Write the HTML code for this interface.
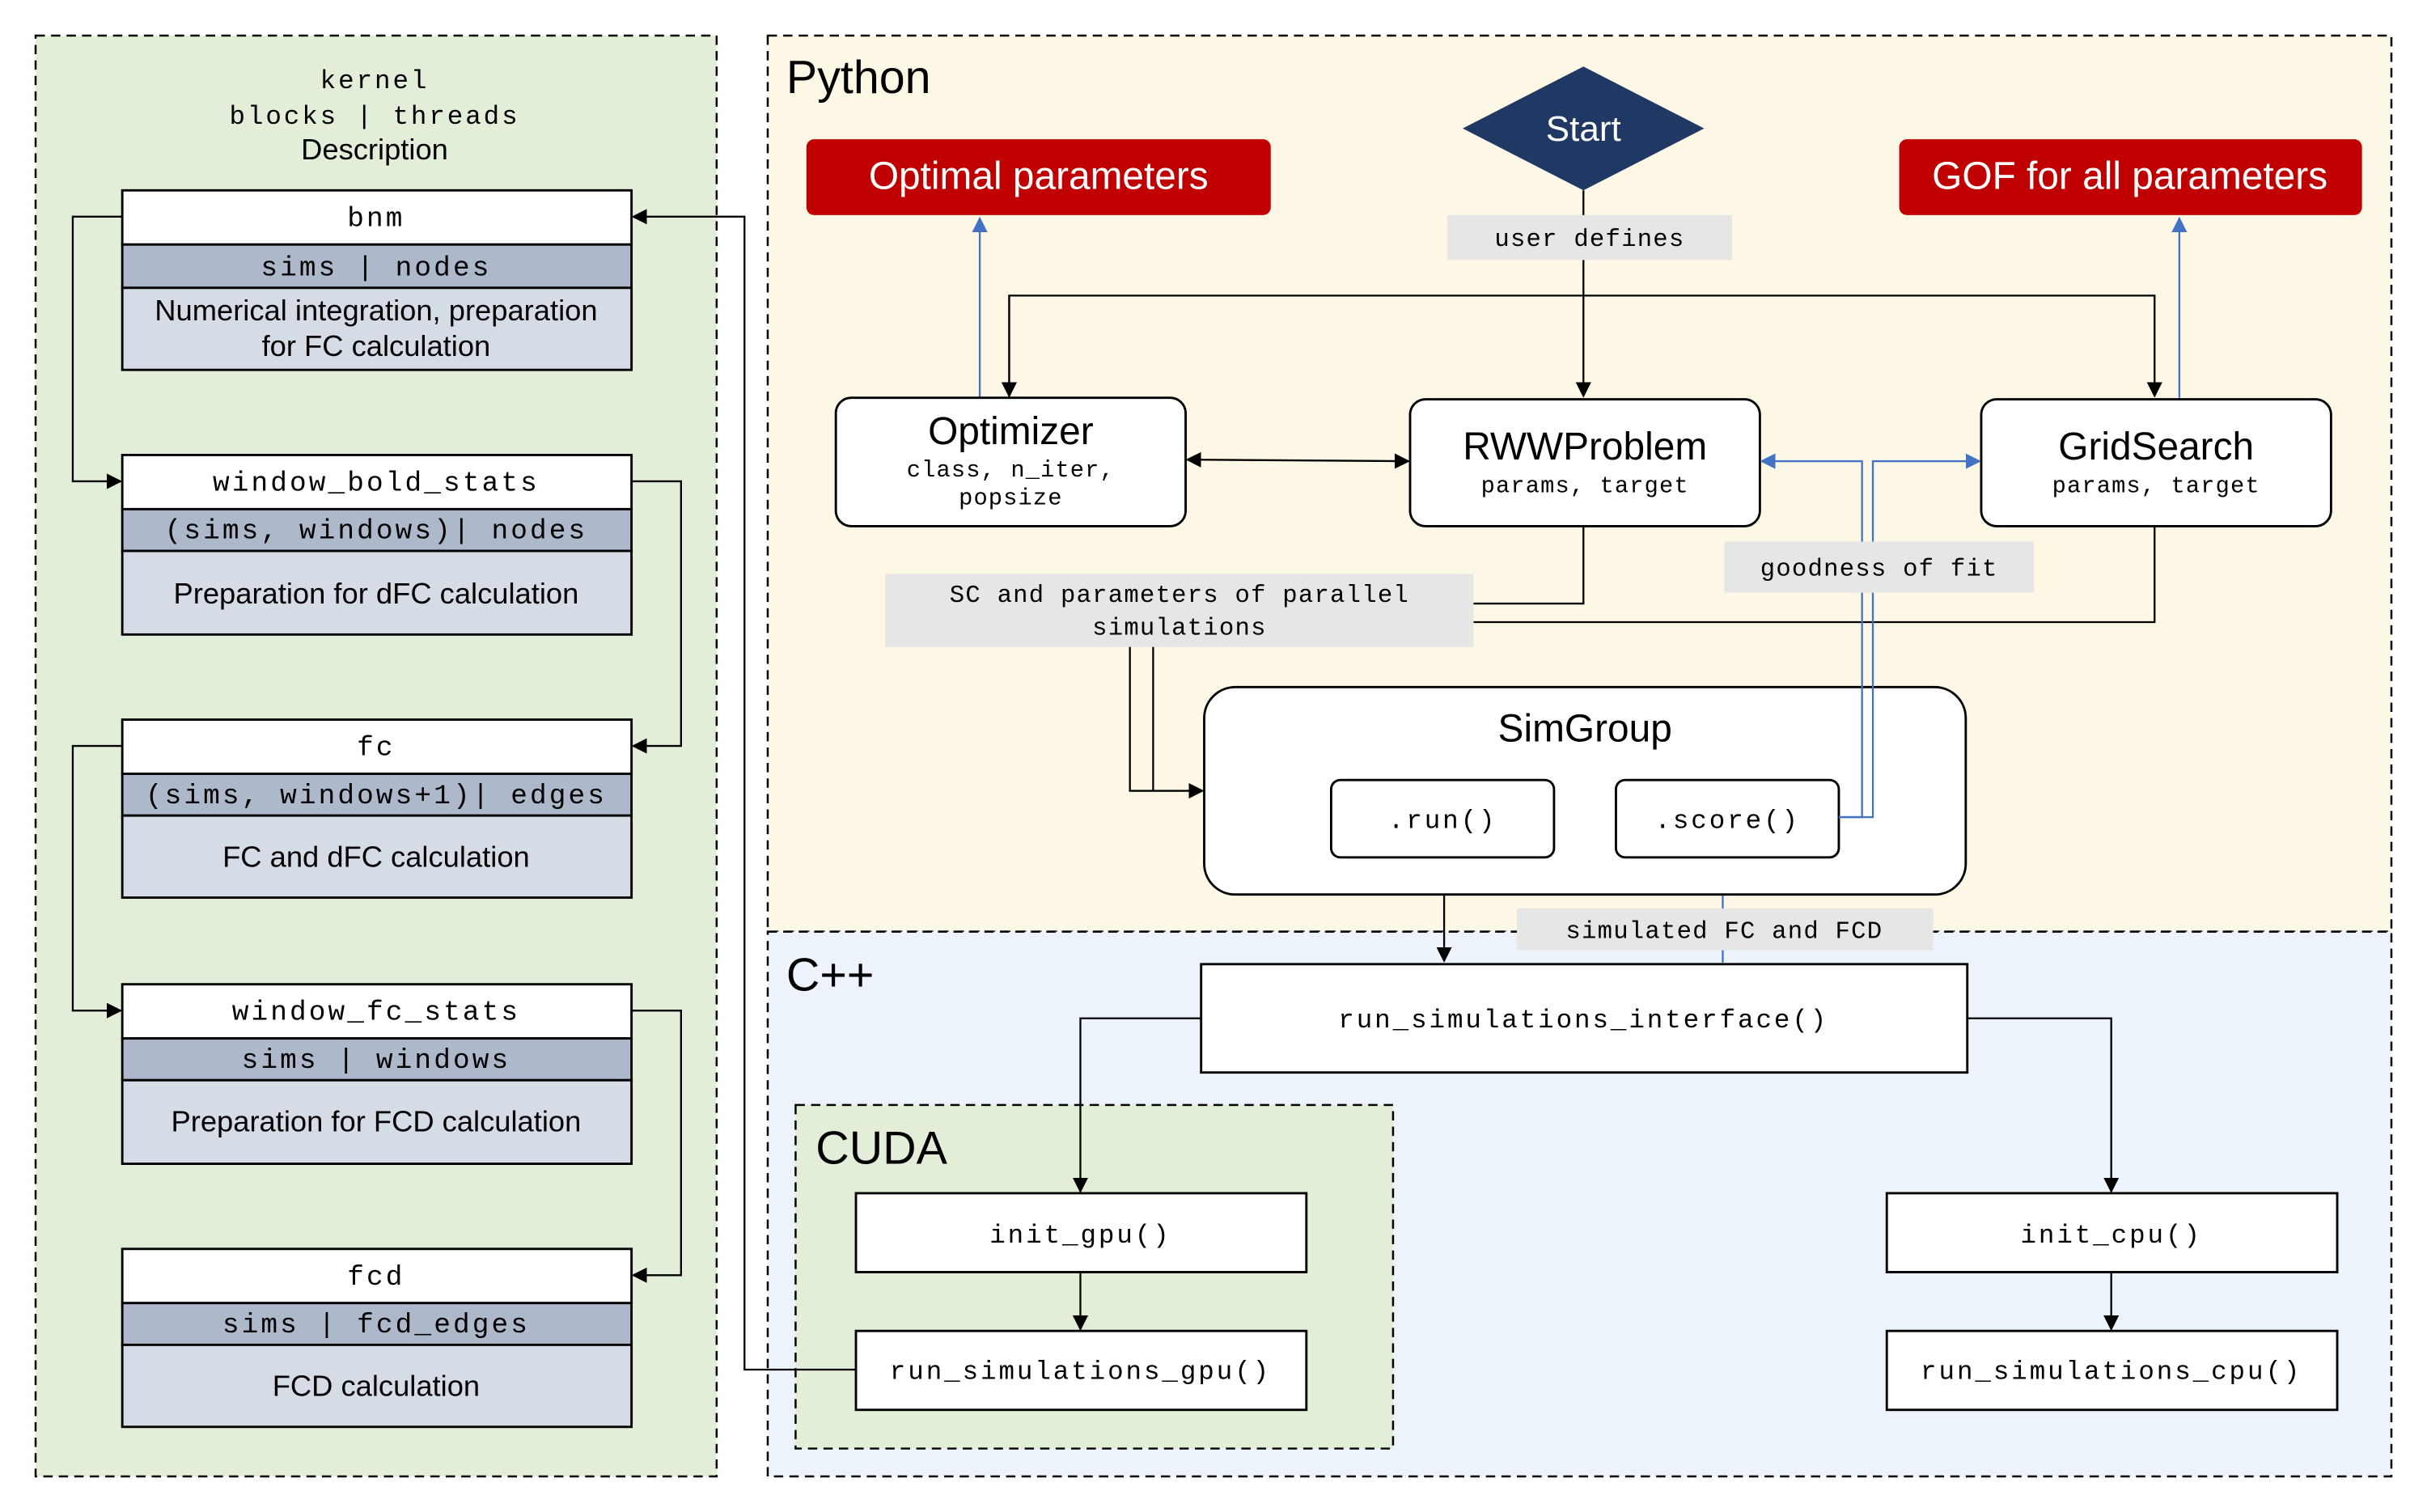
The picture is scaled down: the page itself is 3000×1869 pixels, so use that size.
<!DOCTYPE html>
<html><head><meta charset="utf-8"><style>
html,body{margin:0;padding:0;background:#fff;}
svg{display:block;}
.m{font-family:"Liberation Mono",monospace;letter-spacing:0.09em;}
.m2{font-family:"Liberation Mono",monospace;letter-spacing:0.04em;}
.s{font-family:"Liberation Sans",sans-serif;}
</style></head><body>
<svg width="3000" height="1869" viewBox="0 0 1568 977" preserveAspectRatio="none" xmlns="http://www.w3.org/2000/svg">
<defs>
<marker id="a" markerWidth="10" markerHeight="10" refX="9" refY="5" orient="auto" markerUnits="userSpaceOnUse"><path d="M0,0 L10,5 L0,10 z" fill="#000"/></marker>
<marker id="as" markerWidth="10" markerHeight="10" refX="1" refY="5" orient="auto" markerUnits="userSpaceOnUse"><path d="M10,0 L0,5 L10,10 z" fill="#000"/></marker>
<marker id="b" markerWidth="10" markerHeight="10" refX="9" refY="5" orient="auto" markerUnits="userSpaceOnUse"><path d="M0,0 L10,5 L0,10 z" fill="#4472c4"/></marker>
</defs>
<rect width="1568" height="977" fill="#fff"/>
<rect x="23" y="23" width="440" height="931" fill="#e2eed8" stroke="#000" stroke-width="1.3" stroke-dasharray="6,4"/>
<rect x="496" y="23" width="1049" height="579" fill="#fdf7e6" stroke="#000" stroke-width="1.3" stroke-dasharray="6,4"/>
<rect x="496" y="602" width="1049" height="352" fill="#ecf3fa" stroke="#000" stroke-width="1.3" stroke-dasharray="6,4"/>
<rect x="514" y="714" width="386" height="222" fill="#e2eed8" stroke="#000" stroke-width="1.3" stroke-dasharray="6,4"/>
<text x="508" y="60" class="s" font-size="30">Python</text>
<text x="508" y="640" class="s" font-size="30">C++</text>
<text x="527" y="752" class="s" font-size="30">CUDA</text>

<g text-anchor="middle">
<text x="242" y="57" class="m" font-size="17">kernel</text>
<text x="242" y="80" class="m" font-size="17">blocks | threads</text>
<text x="242" y="103" class="s" font-size="19">Description</text>
</g>
<g stroke="#000" stroke-width="1.5">
<rect x="79" y="123" width="329" height="35" fill="#fff"/><rect x="79" y="158" width="329" height="28" fill="#adb9cb"/><rect x="79" y="186" width="329" height="53" fill="#d6dce6"/>
<rect x="79" y="294" width="329" height="35" fill="#fff"/><rect x="79" y="329" width="329" height="27" fill="#adb9cb"/><rect x="79" y="356" width="329" height="54" fill="#d6dce6"/>
<rect x="79" y="465" width="329" height="35" fill="#fff"/><rect x="79" y="500" width="329" height="27" fill="#adb9cb"/><rect x="79" y="527" width="329" height="53" fill="#d6dce6"/>
<rect x="79" y="636" width="329" height="35" fill="#fff"/><rect x="79" y="671" width="329" height="27" fill="#adb9cb"/><rect x="79" y="698" width="329" height="54" fill="#d6dce6"/>
<rect x="79" y="807" width="329" height="35" fill="#fff"/><rect x="79" y="842" width="329" height="27" fill="#adb9cb"/><rect x="79" y="869" width="329" height="53" fill="#d6dce6"/>
</g>
<g text-anchor="middle" font-size="18">
<text x="243" y="146" class="m">bnm</text>
<text x="243" y="178" class="m">sims | nodes</text>
<text x="243" y="207" class="s" font-size="19">Numerical integration, preparation</text>
<text x="243" y="230" class="s" font-size="19">for FC calculation</text>
<text x="243" y="317" class="m">window_bold_stats</text>
<text x="243" y="348" class="m">(sims, windows)| nodes</text>
<text x="243" y="390" class="s" font-size="19">Preparation for dFC calculation</text>
<text x="243" y="488" class="m">fc</text>
<text x="243" y="519" class="m">(sims, windows+1)| edges</text>
<text x="243" y="560" class="s" font-size="19">FC and dFC calculation</text>
<text x="243" y="659" class="m">window_fc_stats</text>
<text x="243" y="690" class="m">sims  | windows</text>
<text x="243" y="731" class="s" font-size="19">Preparation for FCD calculation</text>
<text x="243" y="830" class="m">fcd</text>
<text x="243" y="861" class="m">sims | fcd_edges</text>
<text x="243" y="902" class="s" font-size="19">FCD calculation</text>
</g>
<g fill="none" stroke="#000" stroke-width="1.2">
<path d="M79,140 H47 V311 H78" marker-end="url(#a)"/>
<path d="M408,311 H440 V482 H409" marker-end="url(#a)"/>
<path d="M79,482 H47 V653 H78" marker-end="url(#a)"/>
<path d="M408,653 H440 V824 H409" marker-end="url(#a)"/>
<path d="M553,885 H481 V140 H409" marker-end="url(#a)"/>
</g>

<polygon points="1023,43 1101,83 1023,123 945,83" fill="#1f3864"/>
<text x="1023" y="91" text-anchor="middle" class="s" font-size="23" fill="#fff">Start</text>
<rect x="521" y="90" width="300" height="49" rx="5" fill="#c00000"/>
<text x="671" y="122" text-anchor="middle" class="s" font-size="25" fill="#fff">Optimal parameters</text>
<rect x="1227" y="90" width="299" height="49" rx="5" fill="#c00000"/>
<text x="1376" y="122" text-anchor="middle" class="s" font-size="25" fill="#fff">GOF for all parameters</text>

<g fill="none" stroke="#000" stroke-width="1.2">
<path d="M1023,123 V256" marker-end="url(#a)"/>
<path d="M652,256 V191 H1392 V256" marker-end="url(#a)"/>
<path d="M652,191 V256" marker-end="url(#a)"/>
<path d="M767,297 L910,298" marker-start="url(#as)" marker-end="url(#a)"/>
<path d="M1023,340 V390 H952"/>
<path d="M1392,340 V402 H952"/>
<path d="M730,418 V511 H777" marker-end="url(#a)"/>
<path d="M745,418 V511"/>
<path d="M933,554 V621" marker-end="url(#a)"/>
<path d="M776,658 H698 V770" marker-end="url(#a)"/>
<path d="M1271,658 H1364 V770" marker-end="url(#a)"/>
<path d="M698,822 V859" marker-end="url(#a)"/>
<path d="M1364,822 V859" marker-end="url(#a)"/>
</g>
<g fill="none" stroke="#4472c4" stroke-width="1.2">
<path d="M633,257 V141" marker-end="url(#b)"/>
<path d="M1408,257 V141" marker-end="url(#b)"/>
<path d="M1113,622 V556" marker-end="url(#b)"/>
</g>

<rect x="935" y="139" width="184" height="29" fill="#e6e6e6"/>
<text x="1027" y="159" text-anchor="middle" class="m2" font-size="16">user defines</text>

<g fill="#fff" stroke="#000" stroke-width="1.5">
<rect x="540" y="257" width="226" height="83" rx="10"/>
<rect x="911" y="258" width="226" height="82" rx="10"/>
<rect x="1280" y="258" width="226" height="82" rx="10"/>
<rect x="778" y="444" width="492" height="134" rx="20"/>
<rect x="860" y="504" width="144" height="50" rx="6"/>
<rect x="1044" y="504" width="144" height="50" rx="6"/>
<rect x="776" y="623" width="495" height="70"/>
<rect x="553" y="771" width="291" height="51"/>
<rect x="553" y="860" width="291" height="51"/>
<rect x="1219" y="771" width="291" height="51"/>
<rect x="1219" y="860" width="291" height="51"/>
</g>
<g fill="none" stroke="#4472c4" stroke-width="1.2">
<path d="M1188,528 H1203 V298 H1138" marker-end="url(#b)"/>
<path d="M1188,528 H1210 V298 H1279" marker-end="url(#b)"/>
</g>
<g text-anchor="middle">
<text x="653" y="287" class="s" font-size="25">Optimizer</text>
<text x="653" y="308" class="m2" font-size="15">class, n_iter,</text>
<text x="653" y="326" class="m2" font-size="15">popsize</text>
<text x="1024" y="297" class="s" font-size="25">RWWProblem</text>
<text x="1024" y="318" class="m2" font-size="15">params, target</text>
<text x="1393" y="297" class="s" font-size="25">GridSearch</text>
<text x="1393" y="318" class="m2" font-size="15">params, target</text>
<text x="1024" y="479" class="s" font-size="25">SimGroup</text>
<text x="932" y="535" class="m" font-size="17">.run()</text>
<text x="1116" y="535" class="m" font-size="17">.score()</text>
<text x="1023" y="664" class="m" font-size="17">run_simulations_interface()</text>
<text x="698" y="803" class="m" font-size="17">init_gpu()</text>
<text x="698" y="891" class="m" font-size="17">run_simulations_gpu()</text>
<text x="1364" y="803" class="m" font-size="17">init_cpu()</text>
<text x="1364" y="891" class="m" font-size="17">run_simulations_cpu()</text>
</g>

<rect x="572" y="371" width="380" height="47" fill="#e6e6e6"/>
<text x="762" y="389" text-anchor="middle" class="m2" font-size="16">SC and parameters of parallel</text>
<text x="762" y="410" text-anchor="middle" class="m2" font-size="16">simulations</text>
<rect x="1114" y="350" width="200" height="33" fill="#e6e6e6"/>
<text x="1214" y="372" text-anchor="middle" class="m2" font-size="16">goodness of fit</text>
<rect x="980" y="587" width="269" height="27" fill="#e6e6e6"/>
<text x="1114" y="606" text-anchor="middle" class="m2" font-size="16">simulated FC and FCD</text>
</svg>
</body></html>
